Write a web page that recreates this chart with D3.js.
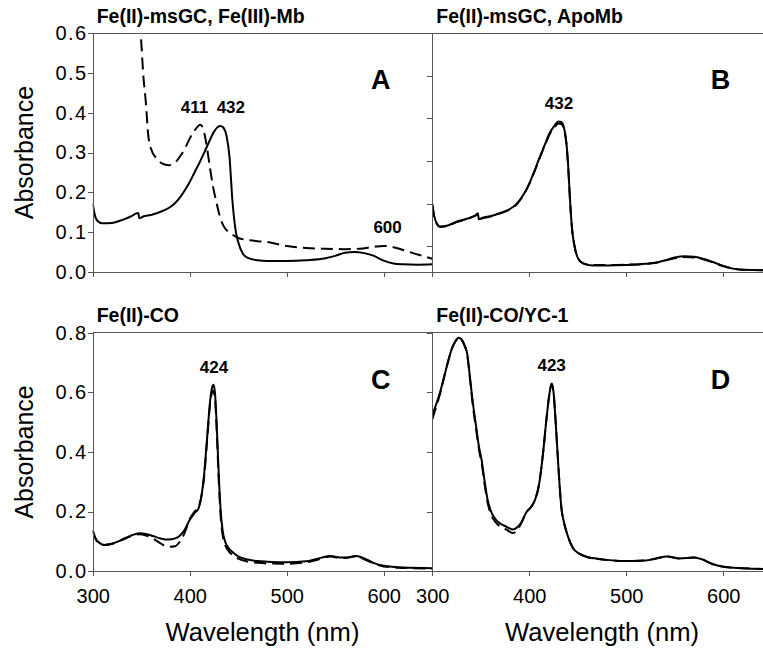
<html>
    <head>
        <script src="https://cdn.jsdelivr.net/npm/d3@7"></script>
        <style>
            body { margin: 0; background: #fff; }
            svg { font-family: "Liberation Sans", Arial, sans-serif; }
            .axis path, .axis line { stroke: #555; stroke-width: 1; shape-rendering: crispEdges; }
            .axis text { font-size: 20px; fill: #000; }
            .axis.y text { letter-spacing: 1.5px; }
            .frame { stroke: #555; stroke-width: 1; shape-rendering: crispEdges; }
            .curve { fill: none; stroke: #000; stroke-width: 2; stroke-linejoin: round; }
            .curve.dashed { stroke-dasharray: 12, 6; }
            .title { font-size: 19.5px; font-weight: bold; }
            .peak { font-size: 17px; font-weight: bold; text-anchor: middle; }
            .letter { font-size: 27px; font-weight: bold; text-anchor: middle; }
            .axis-title { font-size: 25px; text-anchor: middle; }
        </style>
    </head>
    <body>
        <script>
            // spectra: [wavelength nm, absorbance]
            var aSolid = [[300,0.173],[302,0.145],[305,0.128],[310,0.122],[320,0.123],[330,0.13],[340,0.14],[345,0.147],[347,0.148],[348,0.135],
                [352,0.139],[360,0.143],[370,0.151],[380,0.163],[385,0.173],[390,0.187],[395,0.205],[400,0.226],[405,0.25],[410,0.274],
                [415,0.3],[420,0.327],[425,0.352],[428,0.362],[431,0.367],[433,0.366],[435,0.362],[438,0.342],[441,0.29],[444,0.18],
                [447,0.11],[450,0.075],[455,0.045],[460,0.035],[470,0.029],[480,0.027],[500,0.027],[520,0.029],[540,0.034],[550,0.04],
                [560,0.048],[570,0.05],[580,0.047],[590,0.04],[600,0.028],[610,0.021],[620,0.019],[635,0.018],[650,0.019]];
            var aDashed = [[346,0.72],[348,0.64],[350,0.58],[352,0.5],[355,0.42],[357,0.35],[360,0.31],[366,0.285],[372,0.272],[378,0.268],
                [385,0.275],[390,0.29],[395,0.31],[400,0.335],[405,0.355],[411,0.37],[415,0.35],[418,0.31],[421,0.26],[424,0.215],
                [428,0.17],[431,0.14],[435,0.115],[440,0.1],[445,0.092],[450,0.085],[460,0.08],[470,0.077],[480,0.075],[490,0.07],
                [500,0.065],[510,0.062],[520,0.06],[540,0.058],[560,0.057],[575,0.058],[590,0.063],[600,0.065],[610,0.062],[620,0.055],
                [630,0.047],[640,0.04],[650,0.033]];

            var bSolid = [[300,0.171],[302,0.14],[305,0.12],[308,0.114],[315,0.116],[325,0.126],[335,0.133],[345,0.143],[347,0.147],[348,0.132],
                [352,0.136],[360,0.14],[370,0.148],[380,0.158],[387,0.171],[395,0.198],[400,0.222],[405,0.252],[411,0.29],[416,0.32],
                [421,0.349],[426,0.368],[430,0.378],[433,0.377],[436,0.36],[438,0.33],[440,0.27],[442,0.18],[444,0.11],[447,0.06],
                [450,0.035],[455,0.022],[465,0.016],[480,0.016],[500,0.017],[520,0.02],[530,0.023],[540,0.029],[550,0.036],[560,0.039],
                [570,0.038],[580,0.032],[590,0.024],[600,0.015],[610,0.008],[620,0.005],[640,0.004],[650,0.004]];
            var bDashed = [[300,0.168],[302,0.138],[305,0.119],[308,0.113],[315,0.115],[325,0.125],[335,0.132],[345,0.142],[347,0.145],[348,0.131],
                [352,0.135],[360,0.139],[370,0.147],[380,0.157],[387,0.17],[395,0.197],[400,0.221],[405,0.25],[411,0.288],[416,0.318],
                [421,0.346],[426,0.364],[430,0.373],[433,0.372],[436,0.356],[438,0.327],[440,0.268],[442,0.178],[444,0.109],[447,0.06],
                [450,0.035],[455,0.022],[465,0.017],[480,0.017],[500,0.018],[520,0.02],[530,0.023],[540,0.028],[550,0.034],[560,0.037],
                [570,0.036],[580,0.031],[590,0.023],[600,0.014],[610,0.008],[620,0.005],[640,0.004],[650,0.004]];

            var cSolid = [[300,0.138],[303,0.11],[307,0.095],[312,0.088],[320,0.092],[330,0.105],[340,0.12],[348,0.127],[355,0.125],[362,0.118],
                [370,0.11],[378,0.106],[385,0.11],[390,0.12],[395,0.14],[400,0.172],[405,0.195],[409,0.21],[412,0.25],[415,0.33],
                [418,0.45],[421,0.57],[423,0.615],[424.5,0.625],[426,0.6],[428,0.48],[430,0.32],[432,0.2],[434,0.135],[437,0.095],
                [440,0.078],[445,0.062],[450,0.05],[460,0.039],[470,0.034],[480,0.032],[500,0.03],[520,0.033],[530,0.04],[545,0.051],
                [555,0.046],[562,0.046],[572,0.051],[580,0.043],[590,0.027],[600,0.018],[620,0.012],[650,0.01]];
            var cDashed = [[300,0.135],[303,0.108],[307,0.093],[312,0.088],[320,0.092],[330,0.105],[340,0.118],[348,0.124],[355,0.12],[362,0.11],
                [370,0.093],[378,0.082],[385,0.084],[390,0.1],[395,0.13],[400,0.175],[405,0.2],[409,0.215],[412,0.25],[415,0.32],
                [418,0.44],[421,0.56],[423,0.6],[424,0.605],[426,0.58],[428,0.46],[430,0.3],[432,0.18],[434,0.12],[437,0.085],
                [440,0.068],[445,0.052],[450,0.042],[460,0.032],[470,0.028],[480,0.026],[500,0.025],[520,0.03],[530,0.037],[545,0.049],
                [555,0.044],[562,0.045],[572,0.05],[580,0.04],[590,0.026],[600,0.016],[620,0.011],[650,0.009]];

            var dSolid = [[300,0.524],[304,0.56],[308,0.6],[312,0.65],[316,0.7],[320,0.745],[324,0.772],[327,0.783],[330,0.778],[333,0.76],
                [336,0.73],[339,0.645],[342,0.56],[345,0.49],[348,0.42],[351,0.37],[354,0.3],[357,0.24],[360,0.205],[365,0.175],
                [370,0.16],[376,0.15],[383,0.14],[388,0.148],[392,0.165],[397,0.198],[402,0.216],[406,0.24],[410,0.29],[414,0.39],
                [418,0.52],[421,0.6],[423,0.63],[425,0.6],[427,0.51],[430,0.35],[433,0.215],[436,0.16],[439,0.125],[445,0.078],
                [452,0.058],[460,0.047],[470,0.042],[480,0.038],[500,0.034],[520,0.036],[530,0.042],[542,0.049],[555,0.043],[570,0.046],
                [578,0.04],[588,0.025],[600,0.015],[620,0.01],[650,0.007]];
            var dDashed = [[300,0.51],[304,0.552],[308,0.595],[312,0.648],[316,0.7],[320,0.745],[324,0.772],[327,0.783],[330,0.777],[333,0.758],
                [336,0.725],[339,0.64],[342,0.55],[345,0.48],[348,0.41],[351,0.36],[354,0.29],[357,0.23],[360,0.195],[365,0.165],
                [370,0.15],[376,0.14],[383,0.128],[388,0.14],[392,0.163],[397,0.198],[402,0.216],[406,0.24],[410,0.29],[414,0.39],
                [418,0.52],[421,0.6],[423,0.628],[425,0.6],[427,0.51],[430,0.35],[433,0.215],[436,0.16],[439,0.125],[445,0.078],
                [452,0.058],[460,0.047],[470,0.042],[480,0.038],[500,0.034],[520,0.036],[530,0.042],[542,0.049],[555,0.043],[570,0.046],
                [578,0.04],[588,0.025],[600,0.015],[620,0.01],[650,0.007]];

            var titles = ["Fe(II)-msGC, Fe(III)-Mb", "Fe(II)-msGC, ApoMb", "Fe(II)-CO", "Fe(II)-CO/YC-1"];
            var letters = ["A", "B", "C", "D"];
            // peak annotations: [label, wavelength where the label sits]
            var peaks = [[["411", 405], ["432", 442.4], ["600", 604]], [["432", 430.6]], [["424", 425]], [["423", 423]]];
            var xTicks = [300, 400, 500, 600];
            var yTicksTop = [0, 0.1, 0.2, 0.3, 0.4, 0.5, 0.6];
            var yTicksBottom = [0, 0.2, 0.4, 0.6, 0.8];
            var bTickMarks = [0, 0.1, 0.2, 0.3, 0.4, 0.5];

            var width = 763, height = 651;
            var colLeft = [92.7, 432.3], plotW = 339.5;
            var rowTop = [33.3, 332.7], plotH = 238.5;

            var panels = [
                {row: 0, col: 0, ymax: 0.6, ticks: yTicksTop, series: [aSolid, aDashed], peakY: [113, 113, 233]},
                {row: 0, col: 1, ymax: 0.6, ticks: yTicksTop, series: [bSolid, bDashed], peakY: [109]},
                {row: 1, col: 0, ymax: 0.8, ticks: yTicksBottom, series: [cSolid, cDashed], peakY: [373]},
                {row: 1, col: 1, ymax: 0.8, ticks: yTicksBottom, series: [dSolid, dDashed], peakY: [371]}
            ];

            var svg = d3.select("body").append("svg")
                .attr("width", width)
                .attr("height", height);

            svg.append("rect").attr("width", width).attr("height", height).attr("fill", "#fff");

            panels.forEach(function (p, i) {
                var x0 = colLeft[p.col], y0 = rowTop[p.row];
                var x = d3.scaleLinear().domain([300, 650]).range([x0, x0 + plotW]);
                var y = d3.scaleLinear().domain([0, p.ymax]).range([y0 + plotH, y0]);

                var clipId = "clip" + i;
                svg.append("clipPath").attr("id", clipId)
                    .append("rect")
                    .attr("x", x0).attr("y", y0)
                    .attr("width", plotW).attr("height", plotH);

                var line = d3.line()
                    .x(function (d) { return x(d[0]); })
                    .y(function (d) { return y(d[1]); })
                    .curve(d3.curveMonotoneX);

                svg.append("g")
                    .attr("clip-path", "url(#" + clipId + ")")
                    .selectAll("path")
                    .data(p.series)
                    .enter().append("path")
                    .attr("class", function (d, j) { return j === 1 ? "curve dashed" : "curve"; })
                    .attr("d", line);

                // top frame line
                svg.append("line").attr("class", "frame")
                    .attr("x1", x0).attr("x2", x0 + plotW)
                    .attr("y1", y0).attr("y2", y0);

                // left axis; panel B has its own odd tick spacing
                var tickScale = y, tickVals = p.ticks;
                if (i === 1) {
                    tickScale = d3.scaleLinear().domain([-0.06, 0.5]).range([y0 + plotH, y0]);
                    tickVals = bTickMarks;
                }
                svg.append("g")
                    .attr("class", "axis y")
                    .attr("transform", "translate(" + x0 + ",0)")
                    .call(d3.axisLeft(tickScale)
                        .tickValues(tickVals)
                        .tickSize(5).tickSizeOuter(0).tickPadding(0)
                        .tickFormat(p.col === 0 ? d3.format(".1f") : ""));

                svg.append("g")
                    .attr("class", "axis x")
                    .attr("transform", "translate(0," + (y0 + plotH) + ")")
                    .call(d3.axisBottom(x)
                        .tickValues(xTicks)
                        .tickSize(5).tickSizeOuter(0).tickPadding(13)
                        .tickFormat(p.row === 1 ? d3.format("d") : ""));

                svg.append("text").attr("class", "title")
                    .attr("x", x0 + 4).attr("y", y0 - 10.5)
                    .text(titles[i]);

                svg.append("text").attr("class", "letter")
                    .attr("x", x(597)).attr("y", y0 + 56)
                    .text(letters[i]);

                svg.selectAll(null)
                    .data(peaks[i])
                    .enter().append("text")
                    .attr("class", "peak")
                    .attr("x", function (d) { return x(d[1]); })
                    .attr("y", function (d, j) { return p.peakY[j]; })
                    .text(function (d) { return d[0]; });

                if (p.col === 0) {
                    svg.append("text").attr("class", "axis-title")
                        .attr("transform", "translate(33," + (y0 + plotH / 2) + ") rotate(-90)")
                        .text("Absorbance");
                }
                if (p.row === 1) {
                    svg.append("text").attr("class", "axis-title")
                        .attr("x", x0 + plotW / 2).attr("y", 641)
                        .attr("textLength", 194).attr("lengthAdjust", "spacingAndGlyphs")
                        .style("font-size", "26px")
                        .text("Wavelength (nm)");
                }
            });
        </script>
    </body>
</html>
